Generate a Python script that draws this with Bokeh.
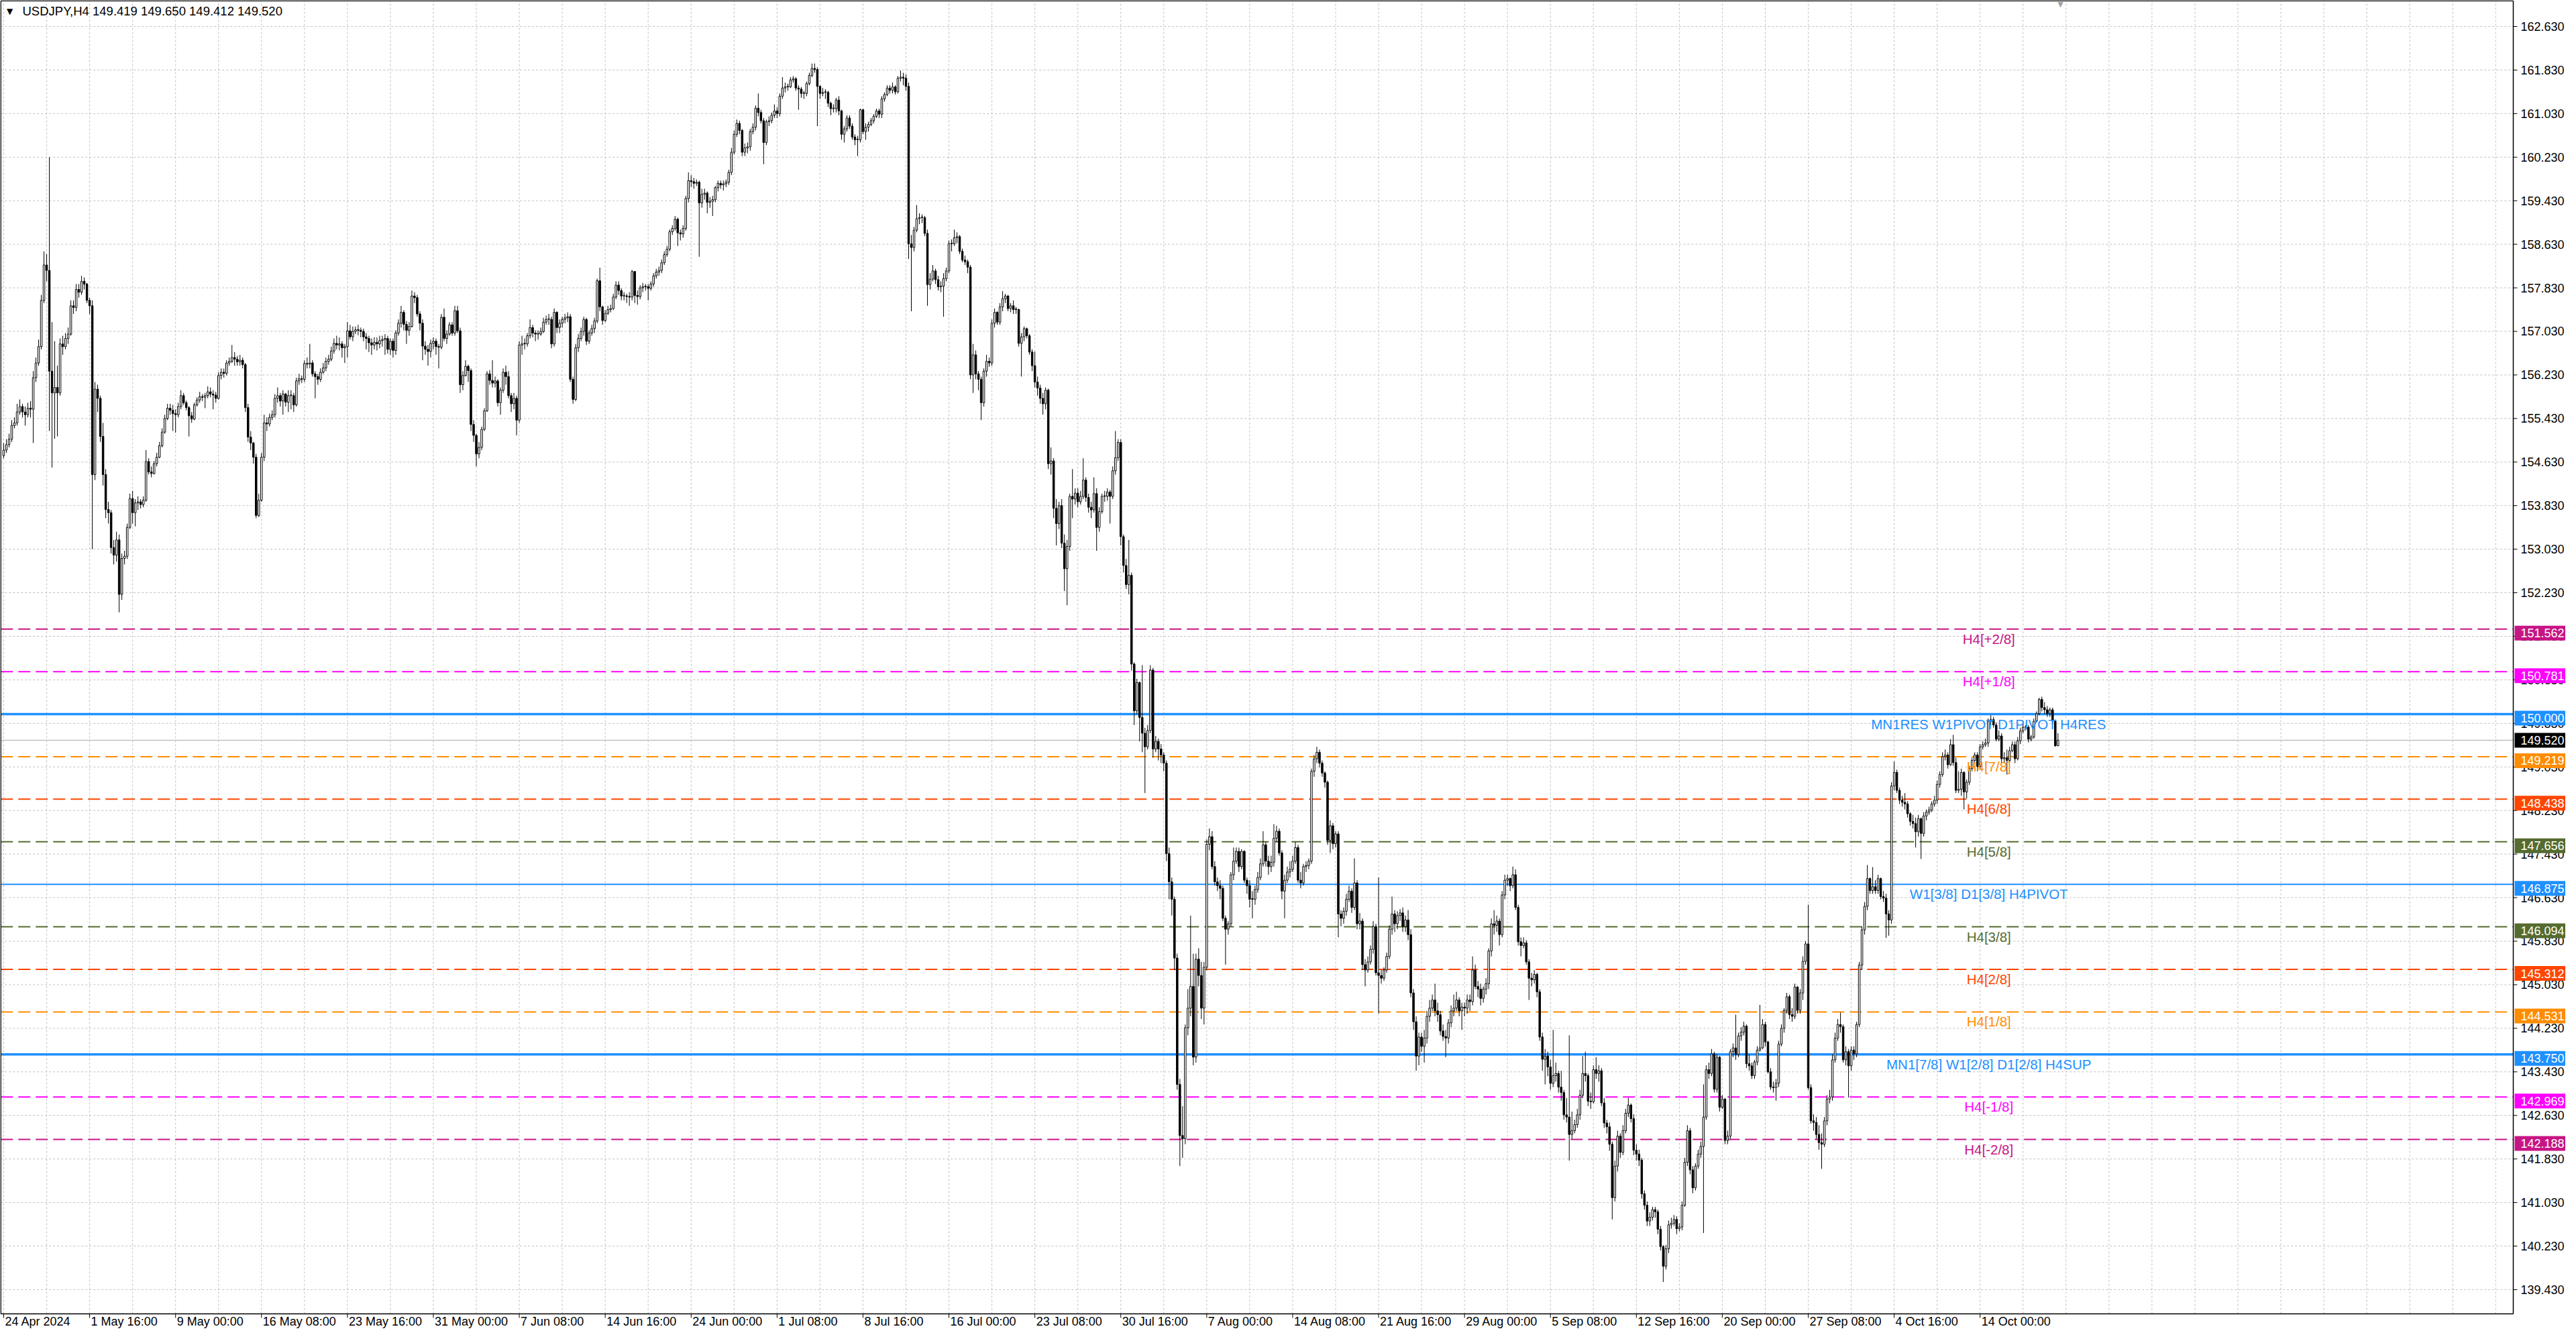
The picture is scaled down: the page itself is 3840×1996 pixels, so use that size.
import numpy as np
from bokeh.plotting import figure
from bokeh.models import Range1d, ColumnDataSource
from bokeh.core.properties import value
from bokeh.embed import file_html
from bokeh.resources import INLINE

# ---------------- data (USDJPY H4) ----------------
symbol_text = "USDJPY,H4  149.419 149.650 149.412 149.520"
first_open = 154.75

close = [
154.85,154.95,155.05,155.30,155.35,155.55,155.65,155.55,155.50,155.62,155.60,156.18,156.45,156.75,157.60,158.25,
158.15,156.30,155.90,156.00,155.90,156.80,156.75,156.90,156.98,157.50,157.47,157.80,157.75,157.95,157.90,157.60,
157.50,154.40,155.97,155.80,155.10,154.40,153.76,153.70,153.06,152.92,153.20,152.20,152.86,152.90,153.43,153.96,
153.70,153.88,153.90,153.85,153.93,154.64,154.45,154.42,154.60,154.72,154.93,155.18,155.43,155.62,155.58,155.52,
155.50,155.65,155.85,155.72,155.63,155.48,155.42,155.68,155.77,155.83,155.82,155.85,155.92,155.88,155.86,155.80,
156.22,156.28,156.26,156.45,156.48,156.55,156.52,156.47,156.50,156.42,155.63,155.09,154.98,154.72,153.65,153.93,
154.72,155.35,155.33,155.45,155.50,155.80,155.85,155.75,155.88,155.73,155.85,155.85,155.68,156.12,156.16,156.15,
156.44,156.43,156.45,156.25,156.20,156.15,156.28,156.36,156.48,156.52,156.67,156.81,156.78,156.80,156.73,156.75,
157.04,156.93,157.03,157.06,157.05,157.03,156.93,156.90,156.82,156.78,156.83,156.80,156.86,156.88,156.90,156.70,
156.85,156.68,157.00,157.18,157.38,157.16,157.05,157.12,157.68,157.65,157.35,157.18,156.76,156.70,156.66,156.81,
156.85,156.75,156.74,157.29,156.90,156.98,157.15,157.00,157.41,157.04,156.05,156.22,156.39,156.31,155.32,155.12,
154.78,154.90,155.23,155.57,156.25,156.13,156.08,156.12,155.72,155.95,156.28,156.20,155.85,155.70,155.80,155.40,
156.78,156.80,156.80,156.95,157.10,157.00,156.98,156.98,157.03,157.20,157.25,157.25,156.80,157.38,157.10,157.18,
157.25,157.28,157.30,156.15,155.78,156.73,156.90,157.03,157.25,156.85,157.00,157.08,157.22,157.96,157.48,157.23,
157.36,157.43,157.45,157.66,157.88,157.78,157.68,157.68,157.67,157.66,158.13,157.69,157.67,157.83,157.85,157.85,
157.82,157.90,158.05,158.12,158.15,158.29,158.44,158.54,158.86,158.92,159.09,158.84,158.82,158.92,159.47,159.80,
159.78,159.75,159.77,159.39,159.55,159.57,159.40,159.42,159.45,159.67,159.75,159.72,159.74,159.77,159.95,160.32,
160.65,160.85,160.72,160.32,160.40,160.42,160.70,160.78,161.13,161.05,160.90,160.50,160.88,160.90,161.00,161.08,
161.03,161.35,161.50,161.52,161.52,161.65,161.67,161.50,161.48,161.40,161.40,161.58,161.73,161.86,161.84,161.53,
161.40,161.42,161.42,161.22,161.12,161.12,161.28,161.08,160.65,160.75,160.95,160.80,160.60,160.55,160.55,161.10,
160.70,160.78,160.83,160.90,160.98,161.08,161.02,161.30,161.38,161.50,161.46,161.52,161.43,161.68,161.70,161.68,
161.53,158.64,158.57,158.89,159.10,159.12,159.12,158.83,157.89,157.99,158.14,157.98,157.85,157.86,158.00,158.14,
158.64,158.64,158.75,158.77,158.50,158.34,158.31,158.21,156.23,156.60,156.25,156.15,155.72,156.30,156.48,156.45,
157.18,157.38,157.20,157.48,157.63,157.68,157.45,157.50,157.43,157.43,156.81,156.93,157.08,156.95,156.65,156.40,
156.10,155.99,155.80,155.70,155.95,154.60,154.65,153.78,153.50,153.83,153.14,152.67,153.08,154.00,153.95,154.06,
153.90,154.00,154.30,153.98,153.80,153.75,154.05,153.43,153.72,154.00,154.00,154.08,154.00,154.47,154.71,154.99,
153.26,152.73,152.38,152.55,150.92,150.06,150.58,149.94,149.65,149.40,149.70,150.81,149.36,149.50,149.36,149.25,
149.10,147.44,146.92,146.60,145.52,143.20,142.26,142.20,144.24,144.60,145.00,143.70,145.50,145.20,144.60,145.35,
147.61,147.75,147.20,146.92,146.85,146.80,146.25,146.05,146.15,147.05,147.30,147.48,147.20,147.48,146.95,146.85,
146.60,146.60,146.78,147.00,147.25,147.60,147.30,147.20,147.28,147.72,147.85,147.45,146.75,146.95,147.10,147.15,
147.30,147.55,146.95,146.90,147.20,147.22,147.30,148.95,149.18,149.30,149.10,148.92,148.75,147.68,147.95,147.62,
147.80,146.33,146.25,146.38,146.60,146.75,146.45,146.90,146.15,146.20,145.40,145.30,145.45,145.68,146.10,145.25,
145.20,145.15,145.30,145.55,146.05,146.33,146.15,146.30,146.35,146.10,146.22,145.95,144.88,144.35,143.72,144.07,
143.90,144.05,144.45,144.60,144.75,144.55,144.48,144.18,144.08,144.05,144.33,144.55,144.60,144.75,144.55,144.62,
144.60,144.75,144.72,145.30,145.00,144.95,144.78,144.95,145.05,145.65,146.15,146.12,146.20,145.95,146.68,146.95,
146.98,146.85,147.05,146.45,145.82,145.75,145.80,145.45,145.15,145.12,145.22,144.90,144.07,143.66,143.72,143.52,
143.22,143.36,143.40,143.15,143.05,142.64,142.60,142.28,142.35,142.46,142.64,143.00,143.40,143.36,142.89,142.88,
143.47,143.40,143.45,142.86,142.49,142.42,142.10,141.12,141.70,142.25,141.95,142.35,142.67,142.82,142.57,141.99,
141.92,141.81,141.19,140.98,140.69,140.76,140.90,140.86,140.54,140.22,139.86,140.18,140.62,140.65,140.72,140.55,
140.58,140.98,141.77,142.35,141.63,141.30,141.70,141.92,142.06,142.60,143.47,143.40,143.76,143.11,143.70,142.78,
142.93,142.17,142.25,143.80,143.87,143.75,144.09,144.16,144.27,143.58,143.54,143.36,143.61,143.83,143.87,144.30,
143.98,143.43,143.15,143.14,143.22,143.94,144.23,144.56,144.81,144.48,144.45,144.99,144.56,144.88,145.46,145.78,
143.14,142.53,142.50,142.28,142.13,142.10,142.53,142.93,142.97,143.65,144.05,144.30,144.26,143.65,143.80,143.54,
143.83,143.76,144.30,145.39,146.04,146.47,146.98,146.76,146.83,146.76,146.98,146.65,146.62,146.33,146.22,148.68,
148.93,148.60,148.42,148.38,148.35,148.17,148.03,147.99,147.84,148.08,147.81,148.13,148.20,148.24,148.35,148.42,
148.71,148.89,149.22,149.25,149.07,149.44,149.11,148.60,148.62,148.93,148.57,148.75,149.00,149.15,149.25,149.04,
149.40,149.44,149.47,149.87,149.90,149.80,149.54,149.60,149.18,149.20,149.15,149.33,149.44,149.18,149.51,149.69,
149.76,149.76,149.54,149.58,149.87,150.01,150.27,150.12,150.08,150.01,150.08,149.87,149.42,149.52]

high = [
154.98,155.05,155.15,155.40,155.45,155.70,155.78,155.70,155.65,155.72,155.75,156.30,156.55,156.88,157.70,158.50,
158.45,160.23,157.20,156.85,156.40,156.90,156.95,157.00,157.10,157.60,157.60,157.90,157.90,158.05,158.02,157.92,
157.65,157.60,156.10,156.05,155.85,155.35,154.50,153.90,153.75,153.20,153.35,153.30,152.95,153.00,153.50,154.05,
154.10,153.95,154.00,153.95,154.00,154.85,154.70,154.55,154.65,154.80,155.00,155.25,155.50,155.70,155.70,155.68,
155.60,155.72,155.95,155.90,155.76,155.66,155.55,155.72,155.82,155.92,155.88,155.90,156.02,156.00,155.95,155.92,
156.28,156.35,156.35,156.50,156.55,156.78,156.65,156.58,156.60,156.55,156.45,155.70,155.20,155.00,154.78,154.05,
154.80,155.50,155.45,155.52,155.58,155.88,156.00,155.90,155.95,155.90,155.95,155.95,155.90,156.18,156.25,156.22,
156.50,156.55,156.80,156.50,156.30,156.25,156.35,156.45,156.55,156.60,156.75,156.90,156.95,156.92,156.85,156.80,
157.20,157.15,157.12,157.12,157.15,157.10,157.08,157.00,156.95,156.90,156.92,156.92,156.95,156.95,156.98,156.95,
156.90,156.90,157.05,157.25,157.50,157.42,157.22,157.20,157.78,157.75,157.70,157.40,157.25,156.85,156.78,156.88,
156.92,156.90,156.80,157.35,157.45,157.05,157.20,157.20,157.50,157.50,157.10,156.30,156.50,156.42,156.35,155.40,
155.15,155.00,155.28,155.62,156.30,156.32,156.50,156.20,156.15,156.00,156.35,156.40,156.30,155.90,155.90,155.85,
156.85,156.95,156.90,157.00,157.25,157.15,157.05,157.05,157.10,157.28,157.32,157.35,157.30,157.45,157.40,157.25,
157.30,157.35,157.38,157.35,156.20,156.80,156.98,157.10,157.30,157.28,157.05,157.15,157.28,158.00,158.20,157.50,
157.42,157.50,157.52,157.72,157.95,157.95,157.82,157.75,157.72,157.75,158.16,158.14,157.78,157.88,157.92,157.90,
157.90,157.95,158.10,158.18,158.22,158.35,158.50,158.60,158.90,158.98,159.15,159.12,158.90,158.98,159.52,159.95,
159.90,159.85,159.82,159.80,159.65,159.65,159.60,159.50,159.52,159.70,159.80,159.80,159.80,159.82,160.00,160.40,
160.72,160.92,160.90,160.75,160.48,160.50,160.75,160.85,161.18,161.40,161.10,160.95,160.92,160.98,161.05,161.20,
161.15,161.40,161.70,161.60,161.58,161.70,161.72,161.70,161.55,161.52,161.45,161.62,161.78,161.95,161.95,161.88,
161.55,161.50,161.48,161.45,161.25,161.20,161.32,161.35,161.10,160.80,161.00,161.00,160.85,160.65,160.62,161.12,
161.12,160.85,160.88,160.95,161.02,161.12,161.12,161.35,161.42,161.55,161.55,161.60,161.55,161.72,161.82,161.78,
161.75,161.60,158.80,158.95,159.35,159.20,159.18,159.15,158.90,158.10,158.25,158.18,158.05,157.95,158.10,158.20,
158.70,158.72,158.90,158.85,158.80,158.55,158.42,158.35,158.25,156.80,156.68,156.30,156.20,156.35,156.60,156.55,
157.25,157.45,157.40,157.55,157.77,157.72,157.70,157.55,157.60,157.48,157.45,157.00,157.12,157.10,156.98,156.70,
156.66,156.20,156.05,155.90,156.00,155.98,154.90,154.70,153.95,153.90,153.95,153.30,153.20,154.05,154.50,154.15,
154.15,154.10,154.70,154.35,154.05,153.90,154.35,154.15,153.80,154.05,154.10,154.15,154.12,154.55,155.20,155.05,
155.05,153.30,152.85,153.20,152.60,150.95,150.65,150.60,150.90,149.75,149.80,150.90,150.85,149.60,149.55,149.45,
149.30,149.15,147.55,147.00,146.65,145.60,143.30,142.80,144.30,144.95,146.30,145.60,145.60,145.70,145.45,145.45,
147.70,147.90,147.85,147.30,147.00,146.95,146.85,146.30,146.20,147.10,147.55,147.55,147.55,147.52,147.50,147.00,
146.95,146.75,146.85,147.10,147.35,147.85,147.65,147.40,147.40,147.98,147.95,147.90,147.50,147.05,147.20,147.30,
147.40,147.65,147.60,147.10,147.25,147.30,147.35,149.00,149.25,149.40,149.35,149.15,148.95,148.78,148.05,148.00,
147.85,147.85,146.40,146.45,146.70,146.85,146.80,147.35,146.95,146.35,146.25,145.50,145.55,145.75,146.20,146.15,
147.00,145.30,145.35,145.62,146.12,146.65,146.40,146.38,146.42,146.45,146.30,146.40,146.05,144.95,144.45,144.15,
144.15,144.20,144.55,144.75,144.85,145.05,144.70,144.55,144.30,144.20,144.40,144.65,144.85,144.90,144.80,144.70,
144.70,144.85,144.85,145.55,145.40,145.10,145.05,145.00,145.15,145.70,146.25,146.40,146.30,146.25,146.75,147.05,
147.05,147.00,147.20,147.15,146.50,145.90,145.90,145.85,145.50,145.25,145.30,145.25,144.95,144.15,143.85,143.80,
143.65,144.20,143.60,143.45,143.45,143.10,142.95,144.10,142.70,142.55,142.75,143.10,143.72,143.80,143.40,143.05,
143.55,143.70,143.55,143.50,142.95,142.55,142.50,142.15,141.80,142.35,142.30,142.45,142.75,142.95,142.85,142.65,
142.10,142.00,141.85,141.25,141.05,140.85,140.95,140.95,140.90,140.60,140.25,140.25,140.70,140.75,140.80,140.78,
140.65,141.05,141.85,142.45,142.40,141.70,141.75,142.00,142.15,143.20,143.55,143.60,143.85,143.80,143.75,143.72,
143.00,142.95,142.35,143.85,143.95,144.48,144.15,144.25,144.35,144.30,143.75,143.60,143.65,143.90,144.66,144.40,
144.35,144.00,143.50,143.25,143.30,144.00,144.30,144.60,144.88,144.85,144.60,145.05,145.00,144.95,145.55,145.83,
146.50,143.20,142.65,142.60,142.45,142.30,142.60,143.00,143.10,143.75,144.15,144.40,144.52,144.30,143.90,143.85,
143.90,143.90,144.35,145.45,146.10,146.55,147.23,147.00,147.19,146.95,147.05,147.00,146.75,146.70,146.40,148.75,
149.13,148.98,148.65,148.50,148.55,148.40,148.20,148.15,148.10,148.15,148.10,148.20,148.25,148.30,148.40,148.50,
148.78,148.95,149.30,149.35,149.30,149.54,149.62,149.20,148.95,149.00,148.95,148.80,149.05,149.20,149.30,149.30,
149.45,149.50,149.55,149.92,149.98,149.95,149.85,149.70,149.65,149.30,149.35,149.40,149.50,149.50,149.58,149.75,
149.82,149.80,149.80,149.62,149.92,150.05,150.30,150.32,150.22,150.15,150.12,150.12,149.90,149.65]

low = [
154.70,154.80,154.90,155.00,155.25,155.30,155.50,155.45,155.30,155.45,155.45,154.98,156.10,156.40,156.70,157.55,
157.95,155.20,154.53,155.06,155.10,155.85,156.60,156.70,156.80,156.95,157.35,157.40,157.65,157.70,157.80,157.55,
157.35,153.03,154.30,155.55,155.00,154.20,153.60,153.50,152.95,152.75,152.80,151.87,152.10,152.75,152.85,153.40,
153.50,153.45,153.75,153.78,153.80,153.90,154.40,154.35,154.40,154.55,154.70,154.90,155.15,155.40,155.50,155.20,
155.17,155.45,155.60,155.68,155.58,155.10,155.35,155.40,155.65,155.72,155.75,155.62,155.80,155.82,155.60,155.72,
155.78,156.15,156.18,156.22,156.40,156.45,156.40,156.40,156.40,156.35,155.55,155.00,154.85,154.60,153.60,153.62,
153.90,154.65,155.20,155.28,155.40,155.45,155.72,155.65,155.50,155.65,155.55,155.60,155.55,155.65,156.05,156.08,
156.10,156.35,156.35,156.20,155.80,156.05,156.10,156.25,156.30,156.42,156.48,156.62,156.70,156.68,156.55,156.45,
156.55,156.88,156.85,156.98,156.96,156.92,156.85,156.70,156.65,156.60,156.70,156.68,156.72,156.75,156.60,156.62,
156.60,156.55,156.60,156.95,157.10,157.05,156.80,156.95,157.10,157.55,157.30,157.05,156.50,156.60,156.40,156.55,
156.70,156.60,156.35,156.70,156.85,156.80,156.95,156.95,156.95,157.00,155.90,155.95,156.20,156.10,155.20,155.00,
154.55,154.70,154.85,155.20,155.55,156.05,156.00,156.00,155.65,155.50,155.90,156.05,155.80,155.55,155.60,155.12,
155.35,156.60,156.70,156.75,156.90,156.92,156.85,156.88,156.95,157.00,157.15,157.15,156.72,156.75,157.00,157.00,
157.10,157.18,157.20,156.10,155.70,155.75,156.65,156.85,156.95,156.78,156.80,156.95,157.00,157.18,157.40,157.15,
157.20,157.33,157.38,157.42,157.62,157.70,157.60,157.60,157.55,157.50,157.60,157.55,157.52,157.62,157.75,157.78,
157.60,157.78,157.85,158.00,158.05,158.10,158.25,158.40,158.50,158.80,158.88,158.60,158.70,158.75,158.88,159.40,
159.68,159.65,159.70,158.40,159.30,159.45,159.20,159.30,159.15,159.40,159.60,159.65,159.62,159.68,159.72,159.90,
160.28,160.60,160.65,160.25,160.25,160.30,160.35,160.65,160.72,160.98,160.85,160.10,160.45,160.80,160.85,160.95,
160.95,160.98,161.30,161.42,161.45,161.50,161.60,161.45,161.10,161.32,161.30,161.35,161.55,161.70,161.78,160.80,
161.30,161.35,161.30,161.15,161.00,161.05,161.05,161.00,160.55,160.50,160.70,160.75,160.55,160.45,160.25,160.50,
160.65,160.55,160.70,160.80,160.85,160.95,160.95,160.95,161.25,161.35,161.40,161.40,161.38,161.40,161.62,161.55,
161.45,158.36,157.40,158.50,158.85,159.00,159.02,158.78,157.50,157.80,157.95,157.90,157.78,157.75,157.30,157.95,
158.10,158.50,158.60,158.65,158.45,158.30,158.25,158.10,156.15,155.90,156.15,155.95,155.40,155.65,156.20,156.38,
156.40,157.10,157.15,157.15,157.40,157.55,157.40,157.38,157.35,157.35,156.75,156.20,156.85,156.90,156.60,156.30,
156.00,155.85,155.70,155.50,155.60,154.50,154.40,153.60,153.10,153.40,153.05,152.26,152.00,153.00,153.60,153.85,
153.80,153.85,153.95,153.90,153.70,153.60,153.70,153.00,153.35,153.68,153.90,153.92,153.50,153.95,154.40,154.65,
153.10,152.60,152.30,152.20,150.80,149.80,150.00,149.50,149.30,148.55,149.35,149.65,149.20,149.30,149.15,149.10,
148.95,147.30,146.60,146.30,145.30,143.10,141.70,141.85,142.10,144.10,144.45,143.55,143.60,145.00,144.40,144.30,
145.30,147.50,147.15,146.85,146.75,146.60,146.20,145.40,145.95,146.10,146.95,147.25,147.10,147.15,146.90,146.70,
146.45,146.25,146.50,146.72,146.95,147.20,147.20,147.05,147.10,147.20,147.65,147.40,146.60,146.25,146.90,147.00,
147.10,147.25,146.90,146.80,146.85,147.10,147.15,147.25,148.85,149.10,149.02,148.85,148.65,147.60,147.45,147.52,
147.55,145.90,146.10,146.15,146.30,146.55,146.35,146.40,146.05,146.05,145.30,145.00,145.25,145.40,145.60,145.20,
144.50,145.05,145.10,145.25,145.50,145.95,146.00,146.05,146.20,146.00,146.00,145.85,144.80,144.20,143.45,143.55,
143.80,143.60,143.95,144.35,144.55,144.45,144.35,144.10,144.00,143.70,143.95,144.25,144.45,144.55,144.45,144.20,
144.45,144.50,144.55,144.65,144.95,144.80,144.65,144.70,144.85,144.95,145.55,145.95,146.00,145.75,145.90,146.60,
146.85,146.75,146.80,146.40,145.75,145.55,145.70,145.40,144.75,145.00,145.05,144.80,144.00,143.45,143.20,143.35,
143.10,143.15,143.25,143.05,142.90,142.55,142.50,141.80,142.20,142.30,142.40,142.55,142.95,143.25,142.80,142.75,
142.85,143.30,143.25,142.80,142.40,142.30,141.98,140.72,141.05,141.60,141.85,141.90,142.30,142.60,142.50,141.90,
141.80,141.70,141.10,140.90,140.60,140.60,140.70,140.75,140.45,140.15,139.57,139.80,140.10,140.55,140.60,140.45,
140.50,140.52,140.95,141.70,141.55,141.20,141.25,141.65,141.85,140.47,142.55,143.30,143.35,143.05,143.05,142.70,
142.75,142.10,142.10,142.20,143.70,143.65,143.70,144.00,144.10,143.50,143.45,143.30,143.30,143.55,143.80,143.85,
143.90,143.40,143.10,143.05,142.90,143.15,143.90,144.15,144.50,144.40,144.35,144.40,144.50,144.50,144.75,145.40,
143.10,142.48,142.35,142.20,142.00,141.65,142.05,142.45,142.85,142.90,143.60,144.00,144.15,143.60,143.55,142.96,
143.45,143.65,143.70,144.25,145.30,145.95,146.40,146.70,146.70,146.70,146.70,146.60,146.55,145.89,145.93,146.15,
148.60,148.55,148.35,148.30,148.25,148.10,147.95,147.90,147.55,147.75,147.34,147.75,148.05,148.15,148.20,148.30,
148.35,148.65,148.85,149.15,149.00,149.05,149.05,148.55,148.55,148.50,148.25,148.45,148.70,148.95,149.10,148.95,
149.00,149.35,149.40,149.40,149.80,149.75,149.50,149.50,149.10,149.10,148.89,149.10,149.30,149.10,149.15,149.45,
149.65,149.70,149.48,149.50,149.55,149.85,149.98,150.05,150.00,149.95,149.95,149.82,149.40,149.412]

# time axis labels (bar index of each label)
tick_labels = ["24 Apr 2024", "1 May 16:00", "9 May 00:00", "16 May 08:00", "23 May 16:00", "31 May 00:00",
               "7 Jun 08:00", "14 Jun 16:00", "24 Jun 00:00", "1 Jul 08:00", "8 Jul 16:00", "16 Jul 00:00",
               "23 Jul 08:00", "30 Jul 16:00", "7 Aug 00:00", "14 Aug 08:00", "21 Aug 16:00", "29 Aug 00:00",
               "5 Sep 08:00", "12 Sep 16:00", "20 Sep 00:00", "27 Sep 08:00", "4 Oct 16:00", "14 Oct 00:00"]
tick_bars = [0, 32, 64, 96, 128, 160, 192, 224, 256, 288, 320, 352, 384, 416, 448, 480, 512, 544,
             576, 608, 640, 672, 704, 736]

# price axis ticks
price_ticks = [139.43, 140.23, 141.03, 141.83, 142.63, 143.43, 144.23, 145.03, 145.83, 146.63, 147.43,
               148.23, 149.03, 149.83, 150.63, 151.43, 152.23, 153.03, 153.83, 154.63, 155.43, 156.23,
               157.03, 157.83, 158.63, 159.43, 160.23, 161.03, 161.83, 162.63]

# Murrey-math / pivot levels
level_price = [151.562, 150.781, 150.000, 149.219, 148.438, 147.656, 146.875, 146.094, 145.312,
               144.531, 143.750, 142.969, 142.188]
level_text = ["H4[+2/8]", "H4[+1/8]", "MN1RES W1PIVOT D1PIVOT H4RES", "H4[7/8]", "H4[6/8]", "H4[5/8]",
              "W1[3/8] D1[3/8] H4PIVOT", "H4[3/8]", "H4[2/8]", "H4[1/8]", "MN1[7/8] W1[2/8] D1[2/8] H4SUP",
              "H4[-1/8]", "H4[-2/8]"]
level_color = ["#C71585", "#FF00FF", "#1E90FF", "#FF8C00", "#FF4500", "#556B2F", "#1E90FF", "#556B2F",
               "#FF4500", "#FF8C00", "#1E90FF", "#FF00FF", "#C71585"]
level_solid = [False, False, True, False, False, False, True, False, False, False, True, False, False]
level_thick = [False, False, True, False, False, False, False, False, False, False, True, False, False]
last_price = 149.520

# ---------------- geometry (pixels of the drawing) ----------------
W, H = 3824, 1980
PX = 4.003          # pixels per bar
PPU = 81.16         # pixels per price unit
AXIS_X = 3746       # right scale line
AXIS_Y = 1958       # time scale line
X0 = -5.0 / PX
X1 = X0 + W / PX
Y1 = 162.63 + 39.0 / PPU
Y0 = Y1 - H / PPU
SCALE_FONT = "Liberation Sans"

def dx(px):   # pixel x -> data x
    return X0 + px / PX

def dy(py):   # pixel y (from top) -> data y
    return Y1 - py / PPU

# ---------------- build ----------------
c = np.array(close)
o = np.concatenate([[first_open], c[:-1]])
h = np.maximum(np.array(high), np.maximum(o, c))
l = np.minimum(np.array(low), np.minimum(o, c))
n = len(c)
idx = np.arange(n)
top = np.maximum(o, c)
bot = np.minimum(o, c)
top = np.where(top - bot < 0.012, bot + 0.012, top)
up = c >= o

p = figure(width=W, height=H, x_range=Range1d(X0, X1), y_range=Range1d(Y0, Y1),
           output_backend="svg", toolbar_location=None,
           x_axis_location=None, y_axis_location=None,
           min_border=0, background_fill_color="white", border_fill_color="white")
p.grid.visible = False
p.outline_line_color = None

xa_end = dx(AXIS_X)
ya_end = dy(AXIS_Y)
x_left = dx(0.75)
y_top = dy(0.75)

# grid
vg = [b for b in range(0, 1000, 16) if 5 + b * PX < AXIS_X - 2]
p.segment(x0=vg, y0=[ya_end] * len(vg), x1=vg, y1=[y_top] * len(vg),
          line_color="#C0C0C0", line_dash="3 3", line_width=1)
p.segment(x0=[x_left] * len(price_ticks), y0=price_ticks, x1=[xa_end] * len(price_ticks), y1=price_ticks,
          line_color="#C0C0C0", line_dash="3 3", line_width=1)

# level lines
for pr, col, solid, thick in zip(level_price, level_color, level_solid, level_thick):
    p.segment(x0=[x_left], y0=[pr], x1=[xa_end], y1=[pr], line_color=col,
              line_dash="solid" if solid else "18 8", line_width=3.5 if thick else 2)
p.segment(x0=[x_left], y0=[last_price], x1=[xa_end], y1=[last_price], line_color="#C0C0C0", line_width=1.5)

# candles
p.segment(x0=idx, y0=h, x1=idx, y1=l, line_color="black", line_width=1)
src_up = ColumnDataSource(dict(x=idx[up], top=top[up], bottom=bot[up]))
src_dn = ColumnDataSource(dict(x=idx[~up], top=top[~up], bottom=bot[~up]))
p.vbar(x="x", top="top", bottom="bottom", width=0.62, source=src_up,
       fill_color="white", line_color="black", line_width=1)
p.vbar(x="x", top="top", bottom="bottom", width=0.62, source=src_dn,
       fill_color="black", line_color="black", line_width=1)

# frame lines and scales
p.segment(x0=[x_left, x_left, xa_end, x_left], y0=[y_top, y_top, y_top, ya_end],
          x1=[xa_end, x_left, xa_end, xa_end], y1=[y_top, ya_end, ya_end, ya_end],
          line_color="black", line_width=1.5)
# right scale ticks + labels
p.segment(x0=[xa_end] * len(price_ticks), y0=price_ticks, x1=[dx(AXIS_X + 6)] * len(price_ticks),
          y1=price_ticks, line_color="black", line_width=1)
p.text(x=[dx(AXIS_X + 11)] * len(price_ticks), y=price_ticks, text=["%.3f" % t for t in price_ticks],
       text_font=value(SCALE_FONT), text_font_size="18px", text_color="black",
       text_align="left", text_baseline="middle")
# time scale ticks + labels
p.segment(x0=tick_bars, y0=[ya_end] * len(tick_bars), x1=tick_bars, y1=[dy(AXIS_Y + 6)] * len(tick_bars),
          line_color="black", line_width=1)
p.text(x=[b + 2.0 / PX for b in tick_bars], y=[dy(AXIS_Y + 11)] * len(tick_bars), text=tick_labels,
       text_font=value(SCALE_FONT), text_font_size="18px", text_color="black",
       text_align="left", text_baseline="middle")

# level captions
p.text(x=[739.25] * len(level_price), y=[pr - 3.0 / PPU for pr in level_price], text=level_text,
       text_color=level_color, text_font=value("Liberation Sans"), text_font_size="20.5px",
       text_align="center", text_baseline="top")

# price boxes on the right scale
box_price = level_price + [last_price]
box_color = level_color + ["black"]
box_y = [pr - 6.0 / PPU for pr in level_price] + [last_price]
p.rect(x=[dx(3786)] * len(box_price), y=box_y, width=76.0 / PX, height=22.0 / PPU,
       fill_color=box_color, line_color=None)
p.text(x=[dx(AXIS_X + 11)] * len(box_price), y=box_y, text=["%.3f" % v for v in box_price],
       text_font=value(SCALE_FONT), text_font_size="18px", text_color="white",
       text_align="left", text_baseline="middle")

# header
p.text(x=[dx(14)], y=[dy(16)], text=["\u25BC"], text_font=value("DejaVu Sans"), text_font_size="12px",
       text_color="black", text_align="center", text_baseline="middle")
p.text(x=[dx(33)], y=[dy(16)], text=[symbol_text], text_font=value(SCALE_FONT),
       text_font_size="18.5px", text_color="black", text_align="left", text_baseline="middle")
# chart shift marker
p.text(x=[dx(3071)], y=[dy(6)], text=["\u25BC"], text_font=value("DejaVu Sans"), text_font_size="11px",
       text_color="#A0A0A0", text_align="center", text_baseline="middle")

open("out.html", "w").write(file_html(p, INLINE))
